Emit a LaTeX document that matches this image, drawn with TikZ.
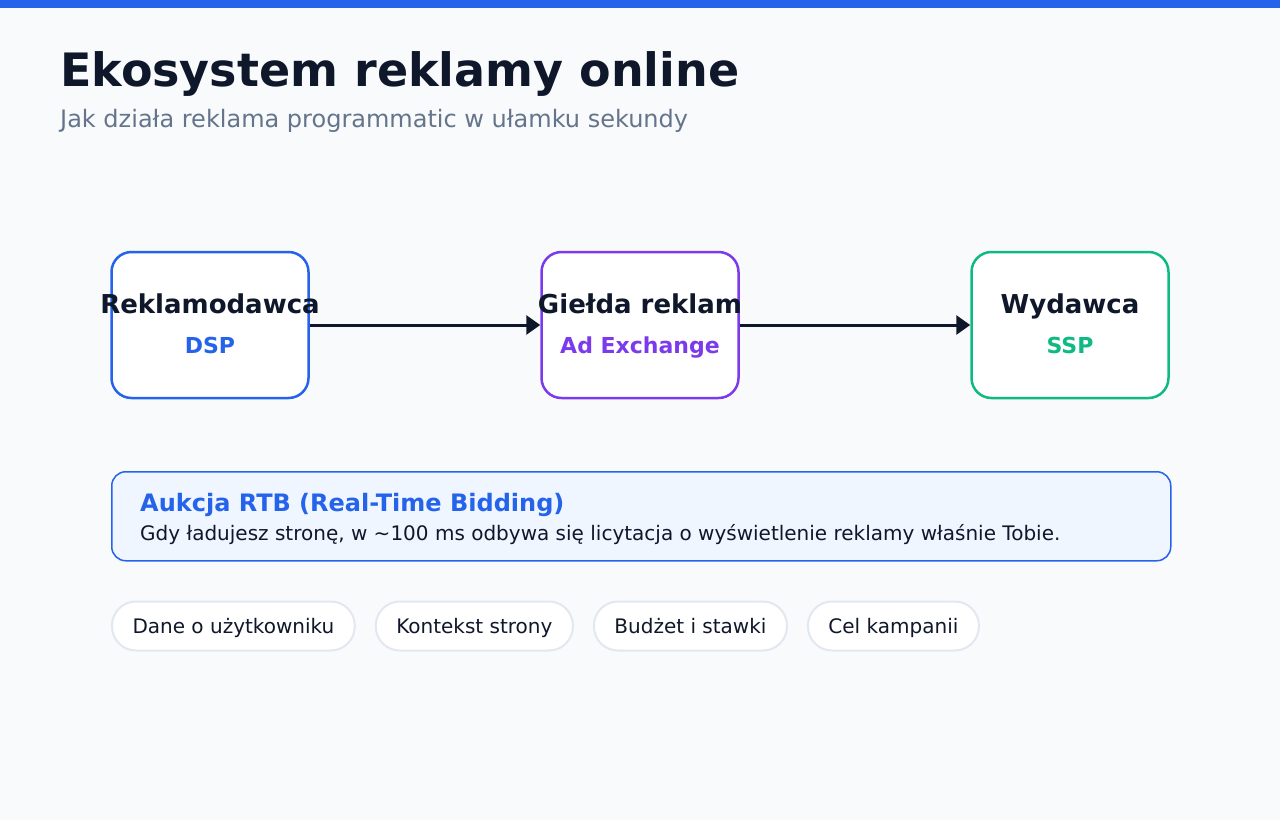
\documentclass[tikz,border=0pt]{standalone}
\usepackage{fontspec}
\setmainfont{DejaVu Sans}
\usetikzlibrary{arrows.meta,positioning}

\definecolor{pagebg}{HTML}{F8FAFC}
\definecolor{ink}{HTML}{0F172A}
\definecolor{muted}{HTML}{64748B}
\definecolor{dspblue}{HTML}{2563EB}
\definecolor{adxviolet}{HTML}{7C3AED}
\definecolor{sspgreen}{HTML}{10B981}
\definecolor{rtbfill}{HTML}{EFF6FF}
\definecolor{chipline}{HTML}{E2E8F0}

\tikzset{
  card/.style={draw=#1, line width=2.5pt, fill=white, rounded corners=20pt,
    minimum width=197pt, minimum height=146pt, inner sep=0pt},
  cardname/.style={anchor=base, inner sep=0pt, text=ink, font=\fontsize{26}{30}\selectfont\bfseries},
  cardtag/.style={anchor=base, inner sep=0pt, text=#1, font=\fontsize{22}{26}\selectfont\bfseries},
  chip/.style={draw=chipline, line width=2pt, fill=white, rounded corners=24pt,
    minimum height=49pt, inner xsep=20.5pt, inner ysep=0pt, text height=17pt, text depth=3pt,
    text=ink, font=\fontsize{20}{24}\selectfont},
  flow/.style={-{Triangle[length=14pt,width=19pt]}, line width=3pt, draw=ink}
}

\begin{document}
\begin{tikzpicture}[x=1pt,y=-1pt]
  \useasboundingbox (0,0) rectangle (1280,820);
  \fill[pagebg] (0,0) rectangle (1280,820);      % page
  \fill[dspblue] (0,0) rectangle (1280,8);       % top strip

  % heading
  \node[anchor=base west, inner sep=0pt, text=ink, font=\fontsize{46}{52}\selectfont\bfseries] (title) at (60,86) {Ekosystem reklamy online};
  \node[anchor=base west, inner sep=0pt, text=muted, font=\fontsize{24}{28}\selectfont] (subtitle) at (60,127) {Jak działa reklama programmatic w ułamku sekundy};

  % the three players
  \node[card=dspblue] (dsp) at (210,325) {};
  \node[card=adxviolet] (adx) at (640,325) {};
  \node[card=sspgreen] (ssp) at (1070,325) {};
  \node[cardname] (dspname) at (210,313) {Reklamodawca};
  \node[cardtag=dspblue] (dsptag) at (210,353) {DSP};
  \node[cardname] (adxname) at (640,313) {Giełda reklam};
  \node[cardtag=adxviolet] (adxtag) at (640,353) {Ad Exchange};
  \node[cardname] (sspname) at (1070,313) {Wydawca};
  \node[cardtag=sspgreen] (ssptag) at (1070,353) {SSP};

  \draw[flow] (dsp) -- (adx);   % advertiser to exchange
  \draw[flow] (adx) -- (ssp);   % exchange to publisher

  % RTB note
  \node[draw=dspblue, line width=1.5pt, fill=rtbfill, rounded corners=14pt, anchor=north west,
    minimum width=1059pt, minimum height=89pt] (rtb) at (111,471) {};
  \node[anchor=base west, inner sep=0pt, text=dspblue, font=\fontsize{24}{28}\selectfont\bfseries] (rtbtitle) at (140,511) {Aukcja RTB (Real-Time Bidding)};
  \node[anchor=base west, inner sep=0pt, text=ink, font=\fontsize{20}{24}\selectfont] (rtbtext) at (140,540) {Gdy ładujesz stronę, w \textasciitilde100 ms odbywa się licytacja o wyświetlenie reklamy właśnie Tobie.};

  % bidding signals
  \node[chip, anchor=west] (user) at (111,626) {Dane o użytkowniku};
  \node[chip, right=19pt of user] (context) {Kontekst strony};
  \node[chip, right=19pt of context] (budget) {Budżet i stawki};
  \node[chip, right=19pt of budget] (goal) {Cel kampanii};
\end{tikzpicture}
\end{document}
